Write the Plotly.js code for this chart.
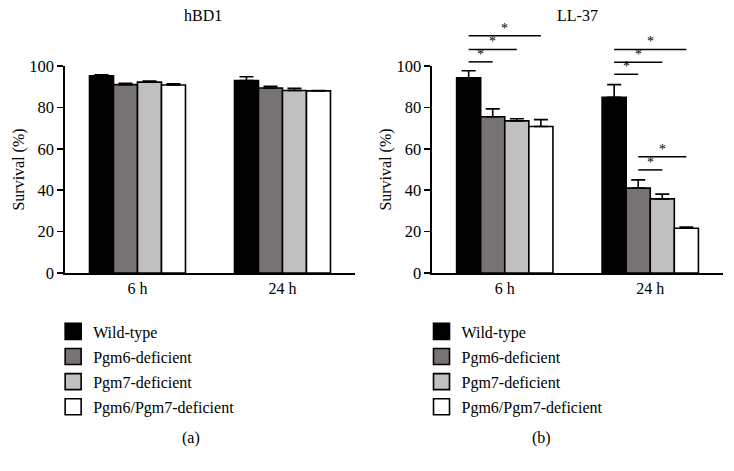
<!DOCTYPE html>
<html>
<head>
<meta charset="utf-8">
<script src="https://cdn.plot.ly/plotly-3.0.1.min.js"></script>
<style>html,body{margin:0;padding:0;background:#fff;}#chart{width:734px;height:471px;}</style>
</head>
<body>
<div id="chart"></div>
<script>
// ---- data ----
const groups = ['6 h', '24 h'];
const strains = ['Wild-type', 'Pgm6-deficient', 'Pgm7-deficient', 'Pgm6/Pgm7-deficient'];
const strainColors = ['#000000', '#777372', '#c0c0c0', '#ffffff'];

// hBD1 survival (%) and upper error
const hbd1WT = [95.3, 93.0];
const hbd1Pgm6 = [91.0, 89.4];
const hbd1Pgm7 = [92.2, 88.2];
const hbd1Double = [90.8, 88.0];
const hbd1WTErr = [0.5, 1.8];
const hbd1Pgm6Err = [0.7, 0.8];
const hbd1Pgm7Err = [0.5, 1.0];
const hbd1DoubleErr = [0.6, 0.2];

// LL-37 survival (%) and upper error
const ll37WT = [94.3, 84.9];
const ll37Pgm6 = [75.5, 41.0];
const ll37Pgm7 = [73.5, 35.8];
const ll37Double = [70.8, 21.6];
const ll37WTErr = [3.4, 6.1];
const ll37Pgm6Err = [3.8, 4.0];
const ll37Pgm7Err = [1.0, 2.3];
const ll37DoubleErr = [3.3, 0.6];

// significance brackets (LL-37 panel)
const sigGroup = ['6 h', '6 h', '6 h', '24 h', '24 h', '24 h', '24 h', '24 h'];
const sigFrom = [0, 0, 0, 0, 0, 0, 1, 1];
const sigTo = [1, 2, 3, 1, 2, 3, 2, 3];
const sigLevel = [102, 108, 114.6, 96, 101.8, 108, 49.8, 56.2];
const sigLabel = ['*', '*', '*', '*', '*', '*', '*', '*'];

const yRange = [0, 100];
const barGap = 0.338;

// ---- build ----
const FONT = "'Liberation Serif', 'Times New Roman', serif";
const hbd1Means = [hbd1WT, hbd1Pgm6, hbd1Pgm7, hbd1Double];
const hbd1Errs = [hbd1WTErr, hbd1Pgm6Err, hbd1Pgm7Err, hbd1DoubleErr];
const ll37Means = [ll37WT, ll37Pgm6, ll37Pgm7, ll37Double];
const ll37Errs = [ll37WTErr, ll37Pgm6Err, ll37Pgm7Err, ll37DoubleErr];

function mkTraces(means, errs, xa, ya, legend) {
  const out = [];
  strains.forEach((s, i) => {
    out.push({
      type: 'bar', name: s, x: groups, y: means[i], xaxis: xa, yaxis: ya,
      showlegend: false, legendgroup: legend + s,
      marker: {color: strainColors[i], line: {color: '#000', width: 1.6}},
      error_y: {type: 'data', symmetric: false, array: errs[i], arrayminus: errs[i].map(() => 0),
                color: '#000', thickness: 1.6, width: 7},
      hoverinfo: 'skip'
    });
    // legend key (square swatch)
    out.push({
      type: 'scatter', mode: 'markers', name: s, x: [null], y: [null], xaxis: xa, yaxis: ya,
      legend: legend, legendgroup: legend + s, showlegend: true,
      marker: {symbol: 'square', size: 16, color: strainColors[i], line: {color: '#000', width: 1.6}},
      hoverinfo: 'skip'
    });
  });
  return out;
}

const traces = mkTraces(hbd1Means, hbd1Errs, 'x', 'y', 'legend')
  .concat(mkTraces(ll37Means, ll37Errs, 'x2', 'y2', 'legend2'));

const nBars = strains.length;
const groupW = 1 - barGap;
function barCenter(g, j) {
  return groups.indexOf(g) - groupW / 2 + (j + 0.5) * groupW / nBars;
}
function frac(v) { return (v - yRange[0]) / (yRange[1] - yRange[0]); }

const shapes = [];
const annotations = [];
sigGroup.forEach((g, k) => {
  const x0 = barCenter(g, sigFrom[k]);
  const x1 = barCenter(g, sigTo[k]);
  shapes.push({type: 'line', xref: 'x2', yref: 'y2 domain', x0: x0, x1: x1,
               y0: frac(sigLevel[k]), y1: frac(sigLevel[k]), line: {color: '#000', width: 1.5}});
  annotations.push({xref: 'x2', yref: 'y2 domain', x: (x0 + x1) / 2, y: frac(sigLevel[k]),
                    text: sigLabel[k], showarrow: false, yanchor: 'bottom', yshift: -2,
                    font: {family: FONT, size: 14, color: '#000000'}});
});

annotations.push(
  {xref: 'x domain', yref: 'paper', x: 0.475, y: 1.246, text: 'hBD1', showarrow: false,
   yanchor: 'middle', font: {family: FONT, size: 16, color: '#000'}},
  {xref: 'x2 domain', yref: 'paper', x: 0.5, y: 1.246, text: 'LL-37', showarrow: false,
   yanchor: 'middle', font: {family: FONT, size: 16, color: '#000'}},
  {xref: 'paper', yref: 'paper', x: 0.175, y: -0.797, text: '(a)', showarrow: false,
   yanchor: 'middle', font: {family: FONT, size: 16, color: '#000'}},
  {xref: 'paper', yref: 'paper', x: 0.742, y: -0.797, text: '(b)', showarrow: false,
   yanchor: 'middle', font: {family: FONT, size: 16, color: '#000'}}
);

function yAxis(anchor) {
  return {anchor: anchor, range: yRange, tickvals: [0, 20, 40, 60, 80, 100],
    ticks: 'outside', ticklen: 6, tickwidth: 1.5, tickcolor: '#000',
    showline: true, linewidth: 1.6, linecolor: '#000', showgrid: false, zeroline: false,
    tickfont: {family: FONT, size: 16.5, color: '#000'},
    title: {text: 'Survival (%)', standoff: 1, font: {family: FONT, size: 16, color: '#000'}}};
}
function xAxis(anchor, domain) {
  return {anchor: anchor, domain: domain, type: 'category', range: [-0.5, 1.5],
    showline: true, linewidth: 1.6, linecolor: '#000', ticks: '', showgrid: false,
    tickfont: {family: FONT, size: 16, color: '#000'}};
}
const legendBase = {font: {family: FONT, size: 16, color: '#000'}, yanchor: 'top', xanchor: 'left',
  bgcolor: 'rgba(0,0,0,0)', tracegroupgap: 1.3, traceorder: 'grouped', y: -0.2005,
  itemsizing: 'trace'};

const layout = {
  width: 734, height: 471,
  margin: {l: 65, r: 11, t: 66, b: 198},
  paper_bgcolor: '#fff', plot_bgcolor: '#fff',
  barmode: 'group', bargap: barGap, bargroupgap: 0,
  xaxis: xAxis('y', [0, 0.4407]),
  yaxis: yAxis('x'),
  xaxis2: xAxis('y2', [0.5578, 1]),
  yaxis2: yAxis('x2'),
  legend: Object.assign({}, legendBase, {x: -0.018}),
  legend2: Object.assign({}, legendBase, {x: 0.5418}),
  shapes: shapes,
  annotations: annotations,
  showlegend: true
};

Plotly.newPlot('chart', traces, layout, {displayModeBar: false, staticPlot: true});
</script>
</body>
</html>
